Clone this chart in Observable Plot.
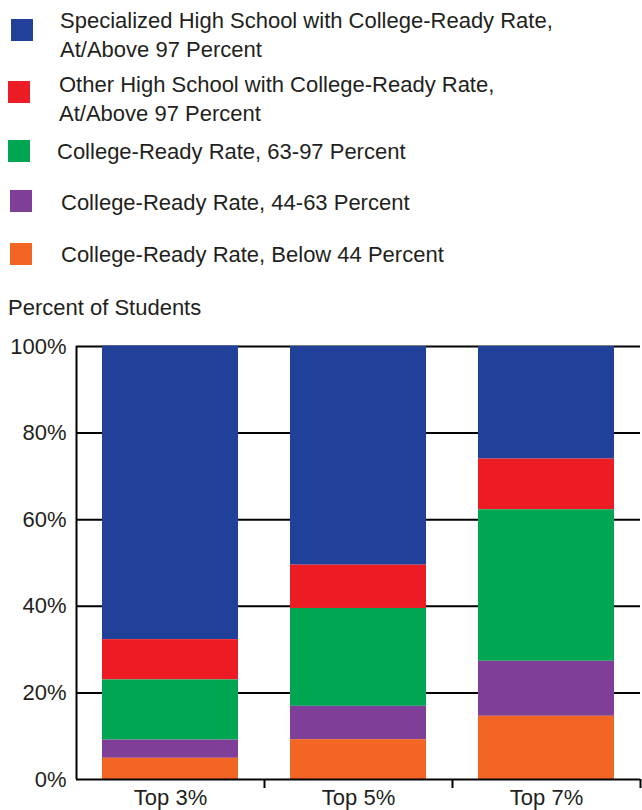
<!DOCTYPE html>
<html>
<head>
<meta charset="utf-8">
<script src="https://cdn.jsdelivr.net/npm/d3@7"></script>
<script src="https://cdn.jsdelivr.net/npm/@observablehq/plot@0.6"></script>
<style>
  html, body { margin: 0; padding: 0; background: #fff; }
  body { width: 642px; height: 810px; position: relative; overflow: hidden;
         font-family: "Liberation Sans", Arial, sans-serif; color: #231f20; }
  .sw { position: absolute; width: 22px; height: 22px; }
  .lt { position: absolute; font-size: 22px; line-height: 29px; width: 500px; }
  #ytitle { position: absolute; left: 8px; top: 293px; font-size: 22px; line-height: 29px; }
  #chart { position: absolute; left: 0; top: 330px; }
</style>
</head>
<body>
<div id="legend"></div>
<div id="ytitle">Percent of Students</div>
<div id="chart"></div>
<script>
// ---- data ----
const categories = ["Top 3%", "Top 5%", "Top 7%"];
const seriesNames = [
  "Specialized High School with College-Ready Rate, At/Above 97 Percent",
  "Other High School with College-Ready Rate, At/Above 97 Percent",
  "College-Ready Rate, 63-97 Percent",
  "College-Ready Rate, 44-63 Percent",
  "College-Ready Rate, Below 44 Percent"
];
const specializedAbove97 = [67.8, 50.5, 26.0];
const otherAbove97 = [9.3, 10.0, 11.7];
const rate63to97 = [13.9, 22.6, 35.0];
const rate44to63 = [4.2, 7.7, 12.7];
const rateBelow44 = [4.9, 9.2, 14.6];
const yTicks = [0, 20, 40, 60, 80, 100];

// ---- style ----
const colors = ["#21409a", "#ed1c24", "#00a651", "#7f3f98", "#f26522"];
const legendLayout = [
  {sx: 11, sy: 19, tx: 60, ty: 6},
  {sx: 8, sy: 81, tx: 59, ty: 70},
  {sx: 8, sy: 140, tx: 57, ty: 137},
  {sx: 10, sy: 190, tx: 61, ty: 188},
  {sx: 10, sy: 243, tx: 61, ty: 240}
];

const seriesValues = [specializedAbove97, otherAbove97, rate63to97, rate44to63, rateBelow44];
const data = [];
seriesNames.forEach((s, si) => categories.forEach((c, ci) => data.push({category: c, series: s, value: seriesValues[si][ci]})));
const stackOrder = seriesNames.slice().reverse(); // bottom to top

// legend
const legend = document.getElementById("legend");
seriesNames.forEach((s, i) => {
  const L = legendLayout[i];
  const sw = document.createElement("div");
  sw.className = "sw";
  sw.style.left = L.sx + "px"; sw.style.top = L.sy + "px"; sw.style.background = colors[i];
  const t = document.createElement("div");
  t.className = "lt";
  t.style.left = L.tx + "px"; t.style.top = L.ty + "px";
  t.textContent = s;
  legend.appendChild(sw); legend.appendChild(t);
});

const halfStep = 94;
const chart = Plot.plot({
  width: 642,
  height: 480,
  marginTop: 16,
  marginBottom: 31,
  marginLeft: 76,
  marginRight: 2,
  style: {fontFamily: "'Liberation Sans', Arial, sans-serif", fontSize: "22px", color: "#231f20", background: "white", overflow: "visible"},
  x: {domain: categories, paddingInner: 0.277, paddingOuter: 0.1385, label: null},
  y: {domain: [0, 100], label: null},
  color: {domain: seriesNames, range: colors},
  marks: [
    Plot.ruleY(yTicks.filter(d => d > 0), {stroke: "black", strokeWidth: 2}),
    Plot.barY(data, {x: "category", y: "value", fill: "series", order: stackOrder}),
    Plot.ruleY([0], {stroke: "black", strokeWidth: 2}),
    Plot.ruleX([categories[0]], {y1: 0, y2: 100, dx: -halfStep, stroke: "black", strokeWidth: 2}),
    Plot.axisY({ticks: yTicks, tickSize: 0, tickPadding: 10, tickFormat: d => d + "%", fill: "#231f20", fontSize: 22}),
    Plot.axisX({tickSize: 9, tickFormat: () => "", dx: halfStep, strokeWidth: 2, stroke: "black"}),
    Plot.axisX({tickSize: 0, tickPadding: 10, fill: "#231f20", fontSize: 22})
  ]
});
document.getElementById("chart").appendChild(chart);
</script>
</body>
</html>
